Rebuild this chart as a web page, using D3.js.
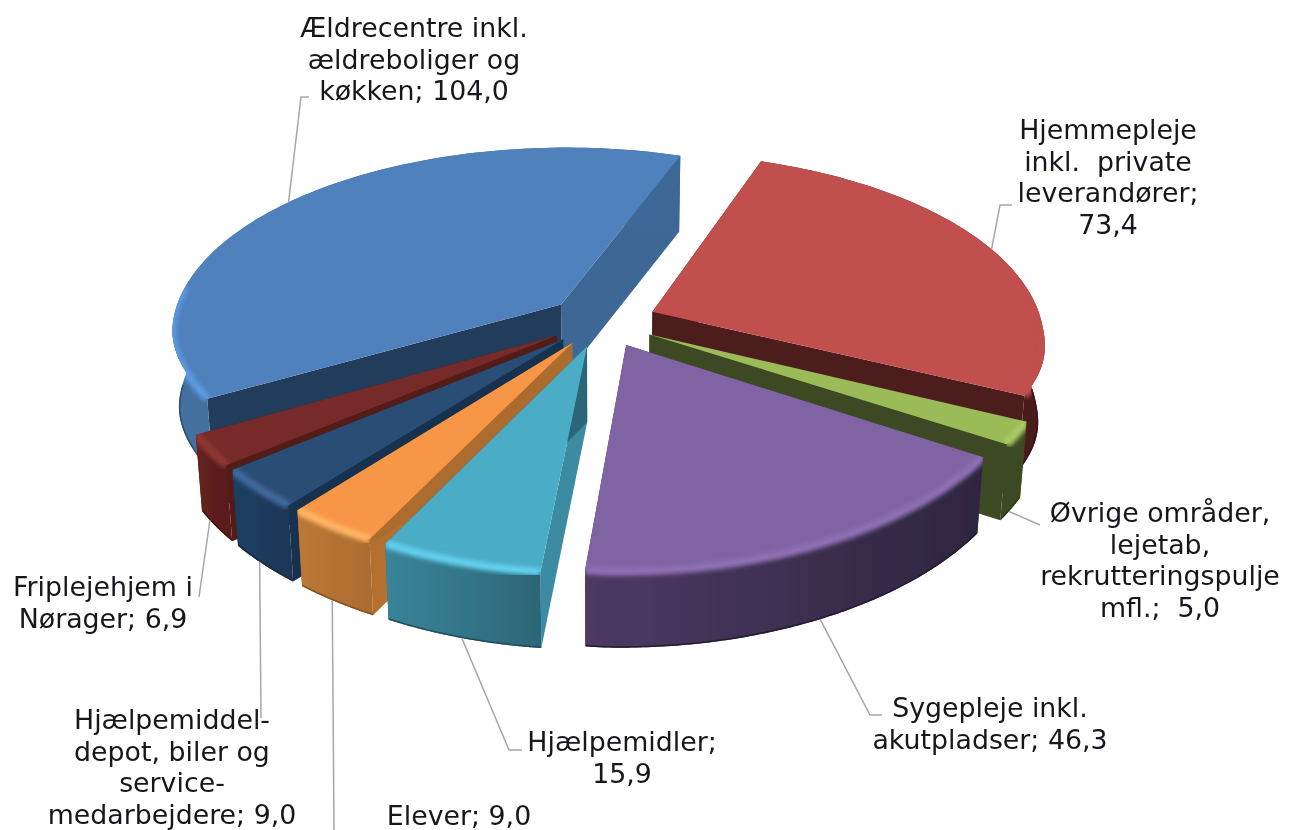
<!DOCTYPE html>
<html>
<head>
<meta charset="utf-8">
<script src="https://cdn.jsdelivr.net/npm/d3@7"></script>
<style>
html,body{margin:0;padding:0;background:#fff;overflow:hidden}
text{font-family:"DejaVu Sans",Verdana,sans-serif;font-size:26.8px;fill:#14141f}
</style>
</head>
<body>
<div class="pie"></div>
<script>
const categories=['Ældrecentre inkl.\nældreboliger og\nkøkken; ','Hjemmepleje\ninkl.  private\nleverandører;\n','Øvrige områder,\nlejetab,\nrekrutteringspulje\nmfl.;  ','Sygepleje inkl.\nakutpladser; ','Hjælpemidler;\n','Elever; ','Hjælpemiddel-\ndepot, biler og\nservice-\nmedarbejdere; ','Friplejehjem i\nNørager; ']
const values=[104.0,73.4,5.0,46.3,15.9,9.0,9.0,6.9]

// styling per slice, same order as categories
const topColors=['#4f81bd','#c0504d','#9bbb59','#8064a2','#4bacc6','#f79646','#2c4d75','#772c2a']
const bevelColors=['#5c9ae0','#c0504d','#a9cc62','#8e70b4','#62d0ee','#ffb565','#3f6a9c','#8f3835']
const wallLeft=['#44719f','#4e1e1c','#3e4a20','#4d3a63','#3a8499','#bd7836','#1f3f63','#66221f']
const wallRight=['#3d6796','#4a1c1a','#3e4a20','#2e2640','#2c6677','#ab6c2f','#1c3655','#561c1a']
const startWall=['#243c5c','#4e1e1c','#3e4a20','#4b3860','#3c8ba3','#b3702f','#16304f','#521a18']
const endWall=['#3d6796','#4e1e1c','#3e4a20','#4b3860','#2c6677','#ab6c2f','#16304f','#521a18']
const drawOrder=[0,1,2,7,6,5,4,3]

// label layout, same order as categories: centre x, first baseline, leader elbows, leader from top rim or wall bottom
const labelX=[414,1108,1160,990,622,459,172,103]
const labelY=[37,139,522,717,751,825,729,596]
const leaders=[[[301,97],[309,97]],[[1000,205],[1012,205]],[[1040,525]],[[870,715],[882,715]],[[509,750],[522,750]],[[334,830]],[[261,718]],[[199,597]]]
const leaderFromTop=[true,true,false,false,false,false,false,false]
const leaderAt=[0.485,0.5,0.6,0.49,0.5,0.55,0.57,0.7]

const width=1296,height=830
const cx=602,cy=321,radiusX=389,radiusY=185
const persp=0.15,perspFront=0.12,explode=0.14,depth=76,shrink=0.0002

const svg=d3.select('.pie').append('svg')
    .attr('width',width)
    .attr('height',height)
const defs=svg.append('defs')
defs.append('filter').attr('id','soft').append('feGaussianBlur').attr('stdDeviation',0.6)
defs.append('filter').attr('id','bevelBlur')
    .attr('x','-10%').attr('y','-10%').attr('width','120%').attr('height','120%')
    .append('feGaussianBlur').attr('stdDeviation',2.2)
defs.append('filter').attr('id','textSoft').append('feGaussianBlur').attr('stdDeviation',0.3)

const x=d3.scaleLinear().domain([-1,1]).range([cx-radiusX,cx+radiusX])
const y=d3.scaleLinear().domain([-1,1]).range([cy+radiusY,cy-radiusY])

// p is right, q is towards the back of the table, z is down in pixels
// the front half of the excel pie is a bit narrower and lifted on the right, so it gets its own terms
function project(p,q,z){
    let w=1+persp*q
    let s=Math.min(1,Math.max(0,-2*q))
    let front=s*s*(3-2*s)
    let wx=1+(persp+(perspFront-persp)*front)*q
    let px=x(p/wx)+7*front
    let py=y(q/w)-8*Math.max(p,0)*front
    return [cx+(px-cx)*(1-shrink*z),py+z]
}

const pie=d3.pie().sort(null).startAngle(240.9*Math.PI/180).endAngle((240.9+360)*Math.PI/180)
const arcs=pie(values)
const line=d3.line()
const fmt=d3.formatLocale({decimal:',',thousands:'.',grouping:[3],currency:['','']}).format('.1f')

function apex(a){
    let mid=(a.startAngle+a.endAngle)/2
    return [explode*Math.sin(mid),explode*Math.cos(mid)]
}
function rimPoint(a,t,z){
    let o=apex(a)
    let ang=a.startAngle+(a.endAngle-a.startAngle)*t
    return project(o[0]+Math.sin(ang),o[1]+Math.cos(ang),z)
}
function rim(a,z){
    return d3.range(0,1.0001,0.01).map(t=>rimPoint(a,t,z))
}

const chart=svg.append('g').attr('filter','url(#soft)')

drawOrder.forEach(i=>{
    let a=arcs[i]
    let o=apex(a)
    let topRim=rim(a,0),botRim=rim(a,depth)
    let apexTop=project(o[0],o[1],0),apexBot=project(o[0],o[1],depth)
    let g=chart.append('g')

    // cut walls
    g.append('path').attr('fill',startWall[i])
        .attr('d',line([apexTop,topRim[0],botRim[0],apexBot])+'Z')
    g.append('path').attr('fill',endWall[i])
        .attr('d',line([apexTop,topRim[100],botRim[100],apexBot])+'Z')

    // outer wall
    let grad=defs.append('linearGradient').attr('id','wall'+i)
    grad.append('stop').attr('offset','0%').attr('stop-color',wallLeft[i])
    grad.append('stop').attr('offset','100%').attr('stop-color',wallRight[i])
    let wallPath=line(topRim.concat(botRim.slice().reverse()))+'Z'
    g.append('path').attr('fill','url(#wall'+i+')').attr('d',wallPath)

    // top
    let topPath=line([apexTop].concat(topRim))+'Z'
    g.append('path').attr('fill',topColors[i]).attr('d',topPath)

    // lit edge along the front of the rim
    defs.append('clipPath').attr('id','clip'+i)
        .append('path').attr('d',topPath+wallPath)
    let front=topRim.filter((d,k)=>{
        let ang=a.startAngle+(a.endAngle-a.startAngle)*k/100
        return Math.cos(ang)<0.1
    })
    let rimG=g.append('g').attr('clip-path','url(#clip'+i+')')
    if(front.length>1){
        rimG.append('path').attr('d',line(front)).attr('fill','none')
            .attr('stroke',bevelColors[i]).attr('stroke-width',8)
            .attr('filter','url(#bevelBlur)')
    }
    let frontBot=botRim.filter((d,k)=>{
        let ang=a.startAngle+(a.endAngle-a.startAngle)*k/100
        return Math.cos(ang)<0
    })
    if(frontBot.length>1){
        rimG.append('path').attr('d',line(frontBot)).attr('fill','none')
            .attr('stroke',d3.color(wallRight[i]).darker(0.8)).attr('stroke-width',3)
            .attr('filter','url(#textSoft)')
    }
})

// leader lines
arcs.forEach((a,i)=>{
    let start=rimPoint(a,leaderAt[i],leaderFromTop[i]?0:depth)
    svg.append('path')
        .attr('d',line([start].concat(leaders[i])))
        .attr('fill','none')
        .attr('stroke','#a6a6a6')
        .attr('stroke-width',1.5)
})

// labels
categories.forEach((c,i)=>{
    let t=svg.append('text')
        .attr('text-anchor','middle')
        .attr('filter','url(#textSoft)')
        .style('white-space','pre')
    ;(c+fmt(values[i])).split('\n').forEach((l,k)=>{
        t.append('tspan').attr('x',labelX[i]).attr('y',labelY[i]+k*31.7).text(l)
    })
})
</script>
</body>
</html>
